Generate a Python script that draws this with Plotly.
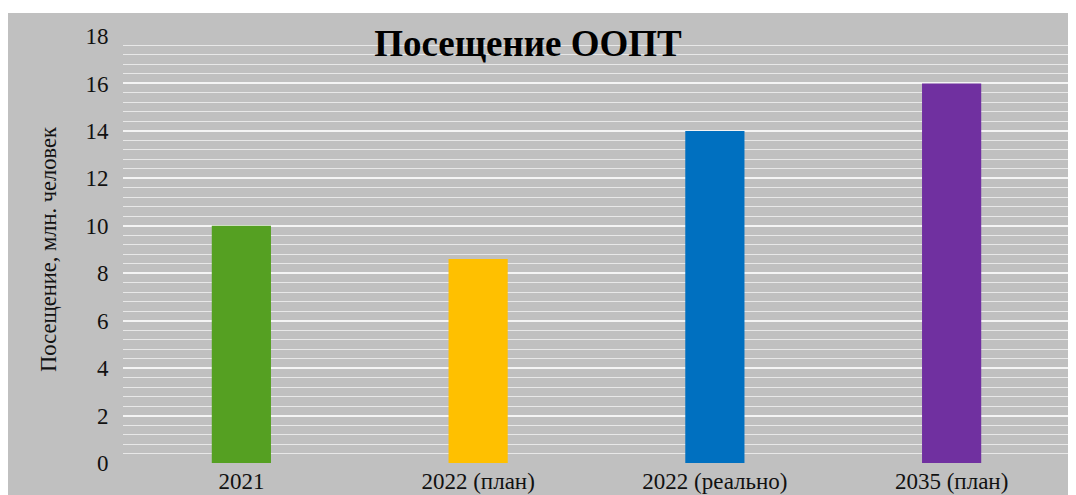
import plotly.graph_objects as go

categories = ["2021", "2022 (план)", "2022 (реально)", "2035 (план)"]
values = [10, 8.6, 14, 16]
colors = ["#55A022", "#FFC000", "#0070C0", "#7030A0"]
y_ticks = [0, 2, 4, 6, 8, 10, 12, 14, 16, 18]

# page has an 8px body margin, so the figure sits at (8, 8)
W, H = 1068, 487
ml, mr, mt, mb = 115, 6, 28, 32
pw, ph = W - ml - mr, H - mt - mb

def px(x):
    return (x - ml) / pw

def py(y):
    return (H - mb - y) / ph

fig = go.Figure(go.Bar(x=categories, y=values, marker=dict(color=colors, line=dict(width=0)), width=0.25))

serif = "Liberation Serif, Times New Roman, serif"
fig.update_layout(
    width=W, height=H,
    margin=dict(l=ml, r=mr, t=mt, b=mb, autoexpand=False),
    paper_bgcolor="#c0c0c0",
    plot_bgcolor="#c0c0c0",
    showlegend=False,
    font=dict(family=serif, color="#111111"),
    title=dict(text="<b>Посещение ООПТ</b>", x=520 / W, xanchor="center", xref="container",
               y=1 - 35 / H, yref="container", yanchor="middle", automargin=False,
               font=dict(size=37, family=serif, color="#000000")),
    xaxis=dict(showgrid=False, showline=False, zeroline=False, ticks="",
               ticklabelstandoff=2, automargin=False,
               tickfont=dict(size=23, family=serif, color="#111111")),
    yaxis=dict(range=[0, 18], tickvals=y_ticks, showgrid=True, gridcolor="#f4f4f4", gridwidth=1.5,
               minor=dict(dtick=0.4, tick0=0, showgrid=True, gridcolor="#e8e8e8", gridwidth=1),
               zeroline=False, showline=False, ticks="outside", ticklen=9, tickcolor="rgba(0,0,0,0)",
               automargin=False,
               tickfont=dict(size=23, family=serif, color="#111111"),
               title=dict(text="Посещение, млн. человек", standoff=22,
                          font=dict(size=22.5, family=serif, color="#111111"))),
    shapes=[
        dict(type="rect", xref="paper", yref="paper", x0=px(-2), x1=px(W + 2), y0=py(5), y1=py(-2),
             fillcolor="white", line=dict(width=0), layer="above"),
    ],
)

fig.write_html("out.html")
